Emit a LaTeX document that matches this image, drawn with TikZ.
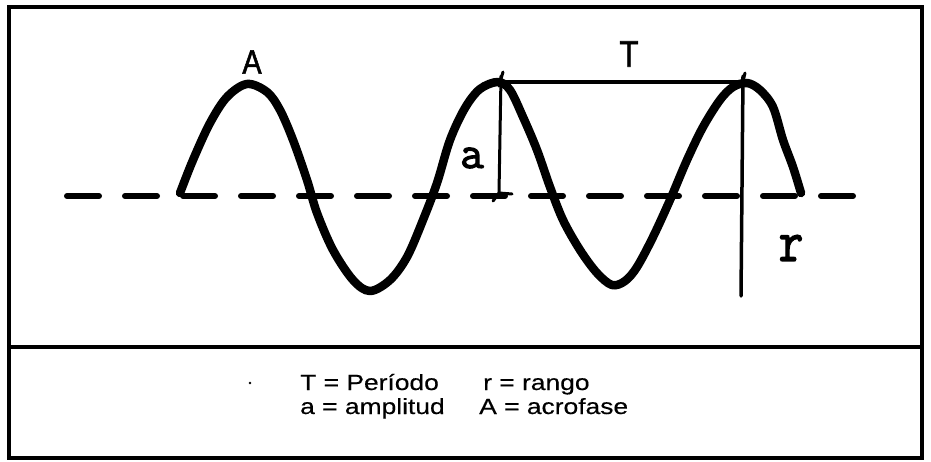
\documentclass[tikz,border=0pt]{standalone}
\usepackage{fontspec}
\setmainfont{Liberation Sans}
\newfontfamily\legendfont{Liberation Sans}[FakeStretch=1.2,FakeBold=0.4]
\newfontfamily\monofnt{Latin Modern Mono}[FakeBold=2.5]
\newfontfamily\letterfont{Liberation Sans}[FakeStretch=0.85,FakeBold=1.5]
\begin{document}
\begin{tikzpicture}[x=1pt,y=-1pt,
  frame/.style={line width=4pt},
  divider/.style={line width=3.5pt},
  wave/.style={line width=8.5pt, line cap=round, line join=round},
  baseline/.style={line width=6pt, line cap=round, dash pattern=on 32pt off 26pt},
  measure/.style={line width=3.5pt, line cap=round},
  biglabel/.style={font=\letterfont\fontsize{34}{34}\selectfont, inner sep=0pt},
  monolabel/.style={font=\monofnt\fontsize{46}{46}\selectfont, inner sep=0pt},
  legend/.style={font=\legendfont\fontsize{22}{22}\selectfont, anchor=base west, inner sep=0pt}]
\useasboundingbox (0,0) rectangle (931,462);
% frame
\draw[frame] (9,7) rectangle (922,458);
\draw[divider] (9,347) -- (922,347);
% dashed mean line
\coordinate (bl) at (67,196);
\coordinate (br) at (868,196);
\draw[baseline] (bl) -- (br);
% wave
\draw[wave] plot[smooth, tension=0.55] coordinates {
(180,193) (193,160) (210,123) (227,97) (247,84) (267,92) (280,110) (293,140)
(307,180) (317,213) (333,250) (353,280) (370,291) (390,280) (407,257) (423,220)
(437,183) (450,140) (465,108) (480,89) (498,82) (510,90) (523,117) (537,150)
(550,187) (563,220) (580,250) (597,273) (612,285) (625,281) (637,267) (653,237)
(670,200) (687,160) (703,127) (720,100) (733,87) (747,83) (760,90) (773,107)
(783,140) (793,167) (801,193)};
% period T
\coordinate (tl) at (500,82);
\coordinate (tr) at (742,82);
\draw[measure, line width=4pt] (tl) -- (tr);
\coordinate (tlt) at (503,72);
\coordinate (tlb) at (499,86);
\draw[measure, line width=3pt] (tlt) -- (tlb);
\coordinate (trt) at (745,73);
\coordinate (trb) at (742,86);
\draw[measure, line width=3pt] (trt) -- (trb);
% amplitude a
\coordinate (atop) at (501,76);
\coordinate (abot) at (499,193);
\coordinate (afl) at (493,201);
\coordinate (afr) at (512,194);
\draw[measure, line width=3pt] (atop) -- (abot);
\draw[measure, line width=3pt] (afl) -- (abot) -- (afr);
% range r
\coordinate (rtop) at (743,76);
\coordinate (rbot) at (741,296);
\draw[measure] (rtop) -- (rbot);
% labels
\node[biglabel] (labA) at (252,62) {A};
\node[biglabel, font=\letterfont\fontsize{37}{37}\selectfont] (labT) at (629,54) {T};
\node[monolabel] (laba) at (472,158) {a};
\node[monolabel, font=\monofnt\fontsize{56}{56}\selectfont] (labr) at (791,248) {\scalebox{0.85}[1.05]{r}};
% legend
\fill (250,383) circle (1.3pt);
\node[legend] (l1) at (300,390) {T = Período};
\node[legend] (l2) at (483,390) {r = rango};
\node[legend] (l3) at (300,414) {a = amplitud};
\node[legend] (l4) at (479,414) {A = acrofase};
\end{tikzpicture}
\end{document}
